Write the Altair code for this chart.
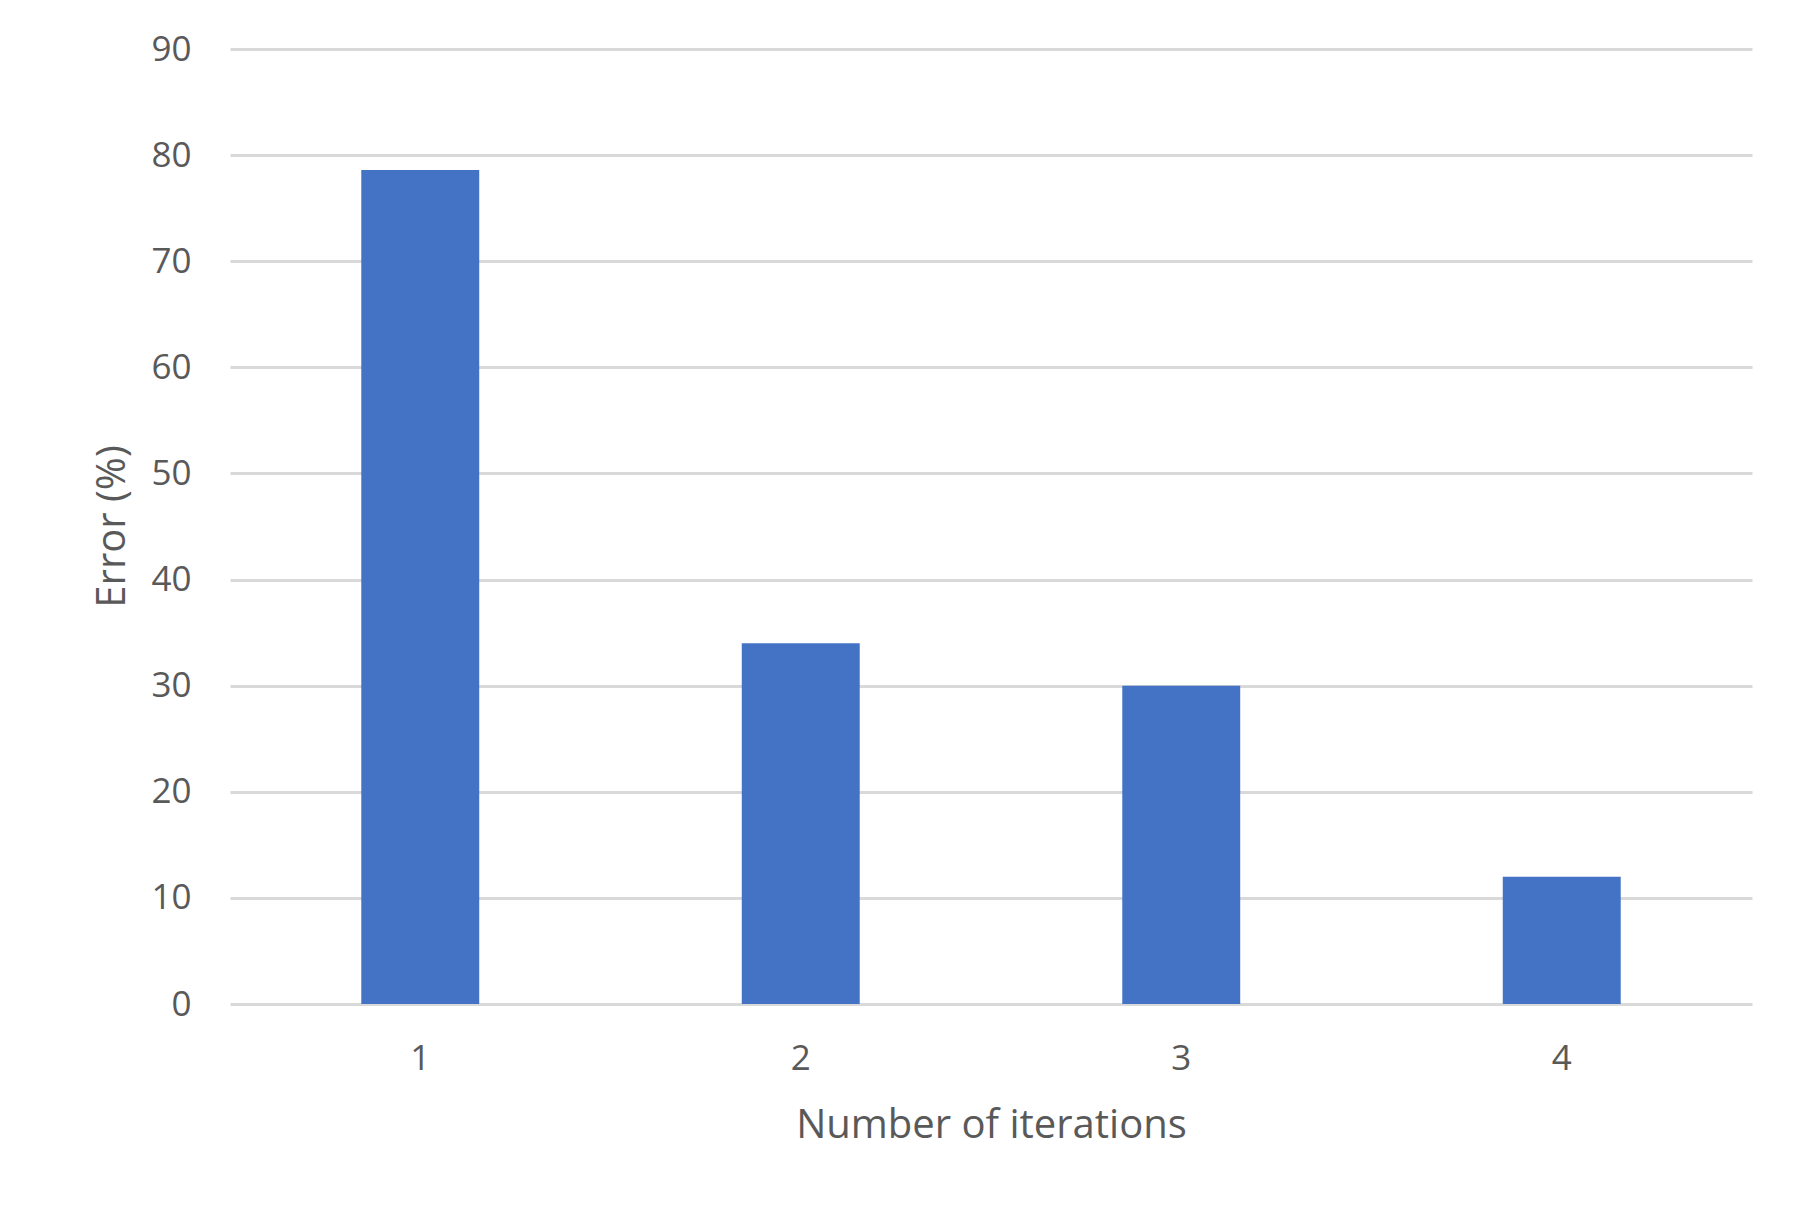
import altair as alt
import pandas as pd

iterations = ["1", "2", "3", "4"]
errors = [78.6, 34.0, 30.0, 12.0]
y_ticks = [0, 10, 20, 30, 40, 50, 60, 70, 80, 90]

df = pd.DataFrame({"iter": iterations, "err": errors})

FONT = "Open Sans"
TXT = "#595959"

chart = alt.Chart(df).mark_bar(color="#4472c4").encode(
    x=alt.X("iter:N", sort=iterations,
            scale=alt.Scale(paddingInner=0.69, paddingOuter=0.345),
            axis=alt.Axis(title="Number of iterations", labelAngle=0,
                          ticks=False, tickSize=0, domain=False, grid=False,
                          labelFont=FONT, labelFontSize=35, labelColor=TXT,
                          labelPadding=37,
                          titleFont=FONT, titleFontSize=40, titleFontWeight="normal",
                          titleColor=TXT, titleY=121, titleBaseline="middle")),
    y=alt.Y("err:Q", scale=alt.Scale(domain=[0, 90], nice=False),
            axis=alt.Axis(title="Error (%)", values=y_ticks,
                          ticks=False, tickSize=0, domain=False,
                          gridColor="#d9d9d9", gridWidth=3,
                          labelFont=FONT, labelFontSize=35, labelColor=TXT,
                          labelPadding=39,
                          titleFont=FONT, titleFontSize=40, titleFontWeight="normal",
                          titleColor=TXT, titleX=-118, titleY=477,
                          titleAlign="center", titleBaseline="middle")),
).properties(
    width=1522, height=955,
    autosize=alt.AutoSizeParams(type="none"),
    padding={"left": 222, "top": 41, "right": 44, "bottom": 180},
).configure_view(stroke=None)

chart.save("out.html", embed_options={"renderer": "svg", "actions": False})
